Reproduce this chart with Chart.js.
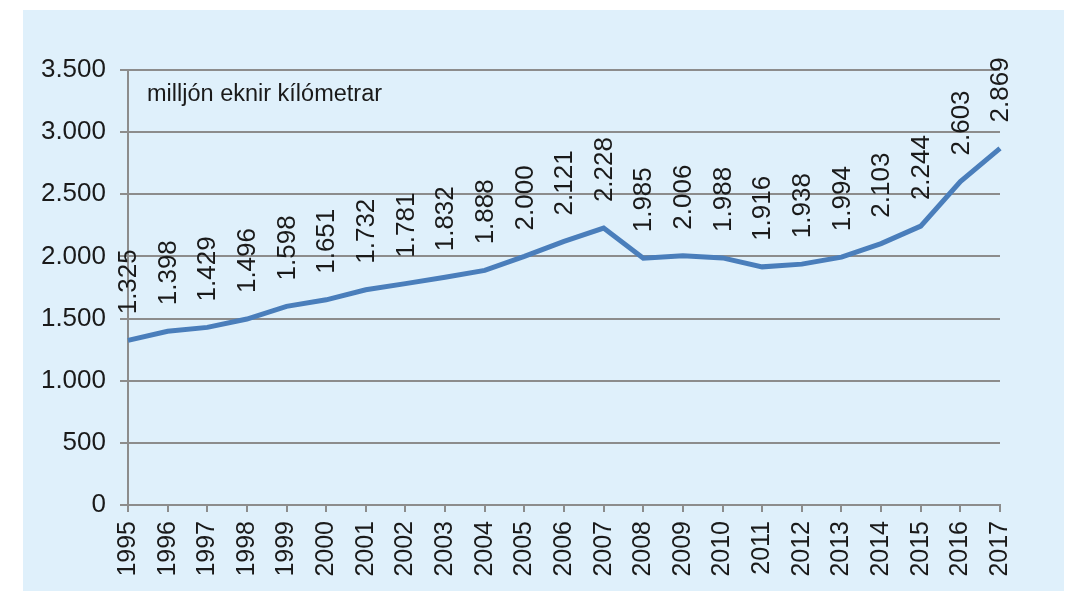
<!DOCTYPE html>
<html>
<head>
<meta charset="utf-8">
<script src="https://cdn.jsdelivr.net/npm/chart.js@4"></script>
<style>
  html, body { margin: 0; padding: 0; background: #ffffff; }
  #box { position: absolute; left: 23px; top: 10px; width: 1041px; height: 581px; background: #dff0fb; }
  #box canvas { display: block; }
</style>
</head>
<body>
<div id="box"><canvas id="c" width="1041" height="581"></canvas></div>
<script>
const years = ['1995','1996','1997','1998','1999','2000','2001','2002','2003','2004','2005','2006','2007','2008','2009','2010','2011','2012','2013','2014','2015','2016','2017'];
const vehicleKm = [1325,1398,1429,1496,1598,1651,1732,1781,1832,1888,2000,2121,2228,1985,2006,1988,1916,1938,1994,2103,2244,2603,2869];
const unitLabel = 'milljón eknir kílómetrar';
const yMin = 0, yMax = 3500, yStep = 500;

const FONT = "'Liberation Sans', Arial, sans-serif";
const fmt = v => String(v).replace(/\B(?=(\d{3})+(?!\d))/g, '.');

const labelPlugin = {
  id: 'valueLabels',
  afterDatasetsDraw(chart) {
    const ctx = chart.ctx;
    const meta = chart.getDatasetMeta(0);
    ctx.save();
    ctx.fillStyle = '#1a1a1a';
    ctx.font = "26px " + FONT;
    ctx.textAlign = 'left';
    ctx.textBaseline = 'middle';
    meta.data.forEach((pt, i) => {
      ctx.save();
      ctx.translate(pt.x + 1, pt.y - 26);
      ctx.rotate(-Math.PI / 2);
      ctx.fillText(fmt(vehicleKm[i]), 0, 0);
      ctx.restore();
    });
    const area = chart.chartArea;
    ctx.font = "23.5px " + FONT;
    ctx.textBaseline = 'alphabetic';
    ctx.fillText(unitLabel, area.left + 19, area.top + 31);
    ctx.restore();
  }
};

new Chart(document.getElementById('c'), {
  type: 'line',
  data: {
    labels: years,
    datasets: [{
      data: vehicleKm,
      borderColor: '#4a7ebb',
      borderWidth: 5,
      pointRadius: 0,
      tension: 0,
      fill: false
    }]
  },
  options: {
    responsive: false,
    animation: false,
    layout: { padding: { top: 60, right: 64, left: 0, bottom: 0 } },
    plugins: { legend: { display: false }, tooltip: { enabled: false } },
    scales: {
      x: {
        offset: false,
        grid: { display: true, drawOnChartArea: false, drawTicks: true, tickLength: 7, color: '#8c8c8c', lineWidth: 2 },
        border: { display: true, color: '#8c8c8c', width: 2 },
        ticks: { minRotation: 90, maxRotation: 90, autoSkip: false, padding: 9, color: '#1a1a1a', font: { family: FONT, size: 25 } },
        afterFit(s) { s.height = 86; }
      },
      y: {
        min: yMin, max: yMax,
        grid: { color: '#8c8c8c', lineWidth: 2, tickLength: 8 },
        border: { display: true, color: '#8c8c8c', width: 2 },
        ticks: { stepSize: yStep, padding: 14, color: '#1a1a1a', font: { family: FONT, size: 26 }, callback: v => fmt(v) },
        afterFit(s) { s.width = 105; }
      }
    }
  },
  plugins: [labelPlugin]
});
</script>
</body>
</html>
